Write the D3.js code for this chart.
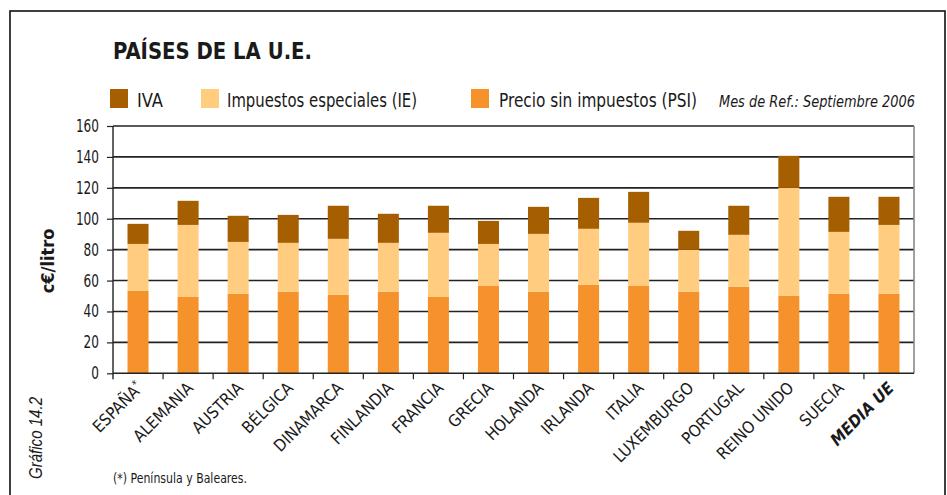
<!DOCTYPE html>
<html>
<head>
<meta charset="utf-8">
<script src="https://cdn.jsdelivr.net/npm/d3@7"></script>
<style>
  html, body { margin: 0; padding: 0; background: #fff; }
  svg { display: block; }
  text { font-family: "Liberation Sans Narrow", "DejaVu Sans Condensed", "Liberation Sans", sans-serif; fill: #1a1a1a; }
</style>
</head>
<body>
<svg id="chart" width="947" height="495"></svg>
<script>
// Price components of fuel per country, c€/litro (Sept. 2006)
const countries = ["ESPAÑA", "ALEMANIA", "AUSTRIA", "BÉLGICA", "DINAMARCA", "FINLANDIA", "FRANCIA", "GRECIA",
                   "HOLANDA", "IRLANDA", "ITALIA", "LUXEMBURGO", "PORTUGAL", "REINO UNIDO", "SUECIA", "MEDIA UE"];
const psi = [53.3, 49.4, 51.4, 52.7, 50.8, 52.7, 49.4, 56.5, 52.7, 57.2, 56.5, 52.7, 55.9, 50.1, 51.4, 51.4];
const ie  = [30.4, 46.6, 33.6, 31.7, 36.2, 31.7, 41.5, 27.2, 37.5, 36.3, 40.9, 27.2, 33.7, 69.9, 40.1, 44.6];
const iva = [13.0, 15.6, 16.9, 18.1, 21.4, 18.8, 17.5, 14.9, 17.5, 20.0, 20.0, 12.3, 18.8, 20.7, 22.7, 18.2];
const yTicks = [0, 20, 40, 60, 80, 100, 120, 140, 160];

const seriesKeys = ["psi", "ie", "iva"];
const seriesNames = { iva: "IVA", ie: "Impuestos especiales (IE)", psi: "Precio sin impuestos (PSI)" };
const colors = { iva: "#A55E00", ie: "#FFCC80", psi: "#F5922B" };

const rows = countries.map((c, i) => ({ country: c, psi: psi[i], ie: ie[i], iva: iva[i] }));

const svg = d3.select("#chart");
const plotLeft = 113, plotRight = 914, plotTop = 126, plotBottom = 373.3;

// outer frame
svg.append("rect").attr("x", 10).attr("y", 11).attr("width", 935).attr("height", 520)
  .attr("fill", "none").attr("stroke", "#111").attr("stroke-width", 1.6);

// title
svg.append("text").attr("x", 113).attr("y", 59).attr("font-size", 23).attr("font-weight", "bold")
  .attr("textLength", 199).attr("lengthAdjust", "spacingAndGlyphs").text("PAÍSES DE LA U.E.");

// legend
const legendItems = [
  { key: "iva", sx: 110, tx: 137, w: 26 },
  { key: "ie", sx: 201, tx: 227, w: 190 },
  { key: "psi", sx: 471, tx: 499, w: 198 }
];
legendItems.forEach(d => {
  svg.append("rect").attr("x", d.sx).attr("y", 89).attr("width", 18).attr("height", 19).attr("fill", colors[d.key]);
  svg.append("text").attr("x", d.tx).attr("y", 107).attr("font-size", 20)
    .attr("textLength", d.w).attr("lengthAdjust", "spacingAndGlyphs").text(seriesNames[d.key]);
});
svg.append("text").attr("x", 719).attr("y", 107).attr("font-size", 16).attr("font-style", "italic")
  .attr("textLength", 196).attr("lengthAdjust", "spacingAndGlyphs").text("Mes de Ref.: Septiembre 2006");

// scales
const x = d3.scaleBand().domain(countries).range([plotLeft, plotRight]).paddingInner(0.58).paddingOuter(0.29);
const xCells = d3.scaleBand().domain(countries).range([plotLeft, plotRight]).padding(0);
const y = d3.scaleLinear().domain([0, 160]).range([plotBottom, plotTop]);

// grid lines
const g = svg.append("g");
g.selectAll("line.grid").data(yTicks.filter(t => t > 0)).join("line")
  .attr("x1", plotLeft).attr("x2", plotRight).attr("y1", d => y(d)).attr("y2", d => y(d))
  .attr("stroke", "#222").attr("stroke-width", 1.6);
// right frame edge
g.append("line").attr("x1", plotRight).attr("x2", plotRight).attr("y1", plotTop).attr("y2", plotBottom)
  .attr("stroke", "#8a8a8a").attr("stroke-width", 1.6);

// stacked bars
const stack = d3.stack().keys(seriesKeys)(rows);
svg.append("g").selectAll("g").data(stack).join("g")
  .attr("fill", s => colors[s.key])
  .selectAll("rect").data(s => s).join("rect")
  .attr("x", d => x(d.data.country))
  .attr("width", x.bandwidth())
  .attr("y", d => y(d[1]))
  .attr("height", d => y(d[0]) - y(d[1]));

// y axis
const yAxis = svg.append("g").attr("transform", `translate(${plotLeft},0)`)
  .call(d3.axisLeft(y).tickValues(yTicks).tickSize(6).tickPadding(8));
yAxis.select(".domain").attr("stroke", "#222").attr("stroke-width", 1.4).attr("d", `M0,${plotBottom + 6}V${plotTop}`);
yAxis.selectAll(".tick line").attr("stroke", "#222").attr("stroke-width", 1.2);
yAxis.selectAll(".tick text").attr("font-size", 17).attr("fill", "#1a1a1a")
  .style("font-family", "'Liberation Sans Narrow', 'DejaVu Sans Condensed', sans-serif")
  .attr("textLength", d => String(d).length * 7.7).attr("lengthAdjust", "spacingAndGlyphs");

// x baseline and cell ticks
svg.append("line").attr("x1", plotLeft).attr("x2", plotRight).attr("y1", plotBottom).attr("y2", plotBottom)
  .attr("stroke", "#222").attr("stroke-width", 1.6);
svg.append("g").selectAll("line").data(countries.slice(1)).join("line")
  .attr("x1", d => xCells(d)).attr("x2", d => xCells(d))
  .attr("y1", plotBottom).attr("y2", plotBottom + 6)
  .attr("stroke", "#222").attr("stroke-width", 1.2);

// category labels
const labels = svg.append("g").selectAll("text").data(countries).join("text")
  .attr("transform", d => `translate(${xCells(d) + xCells.bandwidth() / 2 + 6},389) rotate(-45)`)
  .attr("text-anchor", "end")
  .attr("font-size", 16.5)
  .attr("font-weight", d => d === "MEDIA UE" ? "bold" : null)
  .style("font-style", d => d === "MEDIA UE" ? "italic" : null);
labels.each(function (d) {
  const t = d3.select(this);
  t.append("tspan").text(d);
  if (d === "ESPAÑA") t.append("tspan").attr("dy", -6).attr("font-size", 11).text("*");
});

// y axis title
svg.append("text").attr("transform", "translate(54,261) rotate(-90)")
  .attr("text-anchor", "middle").attr("font-size", 18).attr("font-weight", "bold").text("c€/litro");

// figure number
svg.append("text").attr("transform", "translate(42,438) rotate(-90)")
  .attr("text-anchor", "middle").attr("font-size", 19).attr("font-style", "italic")
  .style("font-family", "'Liberation Sans', 'DejaVu Sans', sans-serif").attr("fill", "#333")
  .attr("textLength", 82).attr("lengthAdjust", "spacingAndGlyphs")
  .text("Gráfico 14.2");

// footnote
svg.append("text").attr("x", 113).attr("y", 483).attr("font-size", 14)
  .attr("textLength", 134).attr("lengthAdjust", "spacingAndGlyphs").text("(*) Península y Baleares.");
</script>
</body>
</html>
